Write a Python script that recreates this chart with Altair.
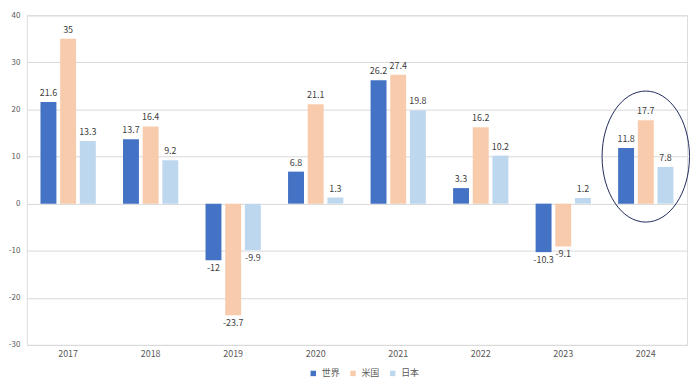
import altair as alt
import pandas as pd

years = ["2017", "2018", "2019", "2020", "2021", "2022", "2023", "2024"]
series = ["世界", "米国", "日本"]
world = [21.6, 13.7, -12, 6.8, 26.2, 3.3, -10.3, 11.8]
usa = [35, 16.4, -23.7, 21.1, 27.4, 16.2, -9.1, 17.7]
japan = [13.3, 9.2, -9.9, 1.3, 19.8, 10.2, 1.2, 7.8]
colors = ["#4472C4", "#F8CBAD", "#BDD7EE"]
y_ticks = [-30, -20, -10, 0, 10, 20, 30, 40]

# annotation ellipse around the highlighted year
annot_year = "2024"
annot_value = 10

rows = []
for s, vals in zip(series, [world, usa, japan]):
    for yr, v in zip(years, vals):
        rows.append({"year": yr, "series": s, "value": v, "label": f"{v:g}"})
df = pd.DataFrame(rows)

FONT = "Noto Sans CJK JP"

x_enc = alt.X("year:N", sort=years, title=None,
              scale=alt.Scale(paddingInner=0.33, paddingOuter=0.165),
              axis=alt.Axis(labelAngle=0, ticks=False, domain=False, grid=False,
                            labelColor="#595959", labelFontSize=9, labelFont=FONT,
                            labelPadding=5))
xo_enc = alt.XOffset("series:N", sort=series,
                     scale=alt.Scale(paddingInner=0.19, paddingOuter=0))
y_enc = alt.Y("value:Q", title=None,
              scale=alt.Scale(domain=[-30, 40], nice=False, zero=False),
              axis=alt.Axis(values=y_ticks, ticks=False, domain=False,
                            gridColor="#D9D9D9", gridWidth=1,
                            labelColor="#595959", labelFontSize=8, labelFont=FONT,
                            labelPadding=7, minExtent=17, maxExtent=17,
                            labelExpr="toString(datum.value)"))
color_enc = alt.Color("series:N", sort=series,
                      scale=alt.Scale(domain=series, range=colors),
                      legend=alt.Legend(title=None, orient="none", direction="horizontal",
                                        legendX=284, legendY=356,
                                        symbolType="square", symbolSize=30,
                                        labelFontSize=9, labelFont=FONT,
                                        labelColor="#595959",
                                        columnPadding=8, symbolOffset=0))

base = alt.Chart(df)

bars = base.mark_bar().encode(x=x_enc, xOffset=xo_enc, y=y_enc, color=color_enc)

pos_labels = base.transform_filter("datum.value >= 0").mark_text(
    baseline="bottom", dy=-4, fontSize=9, font=FONT, color="#404040"
).encode(x=alt.X("year:N", sort=years), xOffset=alt.XOffset("series:N", sort=series),
         y="value:Q", text="label:N")

neg_labels = base.transform_filter("datum.value < 0").mark_text(
    baseline="top", dy=4, fontSize=9, font=FONT, color="#404040"
).encode(x=alt.X("year:N", sort=years), xOffset=alt.XOffset("series:N", sort=series),
         y="value:Q", text="label:N")

rx = 0.667
k = 0.5523
ellipse_path = (
    f"M 0 -1 C {k*rx:.4f} -1 {rx} {-k:.4f} {rx} 0 "
    f"C {rx} {k:.4f} {k*rx:.4f} 1 0 1 "
    f"C {-k*rx:.4f} 1 {-rx} {k:.4f} {-rx} 0 "
    f"C {-rx} {-k:.4f} {-k*rx:.4f} -1 0 -1 Z"
)
annot_df = pd.DataFrame({"year": [annot_year], "value": [annot_value]})
ellipse = alt.Chart(annot_df).mark_point(
    shape=ellipse_path, filled=False, stroke="#1F2A5C", strokeWidth=1, size=17424, opacity=1
).encode(x=alt.X("year:N", sort=years), y="value:Q")

chart = alt.layer(bars, pos_labels, neg_labels, ellipse).properties(
    width=665, height=332,
    padding={"left": 0, "top": 2, "right": 0, "bottom": 0},
).configure_view(stroke=None).configure(font=FONT)

chart.save("out.html", embed_options={"renderer": "svg", "actions": False})
